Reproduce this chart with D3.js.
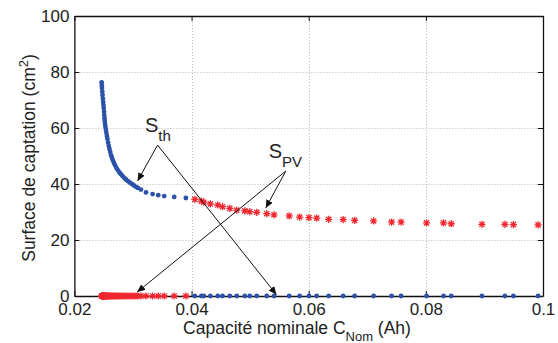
<!DOCTYPE html>
<html><head><meta charset="utf-8">
<script src="https://cdn.jsdelivr.net/npm/d3@7"></script>
<style>
body{margin:0;background:#fff}
text{font-family:Arial,"Liberation Sans",Helvetica,sans-serif;fill:#222}
</style></head>
<body><svg id="c" width="558" height="343"></svg>
<script>
// ---- data ----
const capacity = [
0.02465,0.02468,0.02471,0.02476,0.02480,0.02486,0.02491,0.02496,0.02501,0.02506,
0.02510,0.02514,0.02518,0.02524,0.02530,0.02538,0.02547,0.02555,0.02564,0.02575,
0.02587,0.02599,0.02612,0.02626,0.02641,0.02658,0.02675,0.02696,0.02718,0.02743,
0.02769,0.02794,0.02820,0.02850,0.02880,0.02914,0.02948,0.02982,0.03016,0.03050,
0.03084,0.03136,0.03222,0.03335,0.03431,0.03533,0.03704,0.03903,
0.04056,0.04167,0.04210,0.04321,0.04448,0.04529,0.04653,0.04772,0.04909,0.04994,
0.05113,0.05284,0.05408,0.05667,0.05846,0.06005,0.06136,0.06341,0.06588,0.06784,
0.07108,0.07415,0.07577,0.08012,0.08302,0.08433,0.08958,0.09350,0.09495,0.09916];
const surfaceTh = [
76.3,75.3,74.3,73.0,71.8,70.5,69.3,68.2,67.1,65.8,
64.6,63.5,62.5,61.4,60.4,59.3,58.2,57.1,56.1,54.8,
53.6,52.5,51.4,50.3,49.3,48.4,47.5,46.6,45.7,44.9,
44.1,43.5,42.9,42.2,41.6,41.0,40.5,40.0,39.5,39.0,
38.6,38.0,37.0,36.4,36.0,35.7,35.4,35.0,
0,0,0,0,0,0,0,0,0,0,
0,0,0,0,0,0,0,0,0,0,
0,0,0,0,0,0,0,0,0,0];
const surfacePV = [
0,0,0,0,0,0,0,0,0,0,
0,0,0,0,0,0,0,0,0,0,
0,0,0,0,0,0,0,0,0,0,
0,0,0,0,0,0,0,0,0,0,
0,0,0,0,0,0,0,0,
34.5,33.9,33.5,32.9,32.5,31.9,31.3,30.7,30.4,30.1,
29.9,29.4,29.0,28.6,28.2,28.0,27.8,27.4,27.3,27.0,
26.8,26.4,26.4,26.1,26.1,25.8,25.6,25.6,25.5,25.4];
const xTicks = [0.02,0.04,0.06,0.08,0.1];
const xTickLabels = ["0.02","0.04","0.06","0.08","0.1"];
const yTicks = [0,20,40,60,80,100];

// annotations in data units
const annTh = {label:[0.03221,58.4], apex:[0.03420,53.9], tips:[[0.03079,41.1],[0.05449,0.5]]};
const annPV = {label:[0.05335,49.2], apex:[0.05608,44.6], tips:[[0.05267,31.4],[0.03072,1.4]]};

// ---- chart ----
const svg = d3.select("#c");
const L=74.4, R=543, T=16, B=296;
const x = d3.scaleLinear().domain([0.02,0.1]).range([L,R]);
const y = d3.scaleLinear().domain([0,100]).range([B,T]);

// grid
const grid = svg.append("g").attr("stroke","#b8b8b8").attr("stroke-width",1).attr("stroke-dasharray","1,2");
xTicks.slice(1,-1).forEach(t=>grid.append("line").attr("x1",Math.round(x(t))+0.5).attr("x2",Math.round(x(t))+0.5).attr("y1",T).attr("y2",B));
yTicks.slice(1,-1).forEach(t=>grid.append("line").attr("y1",Math.round(y(t))+0.5).attr("y2",Math.round(y(t))+0.5).attr("x1",L).attr("x2",R));

// axes
const fs = "17px";
const gx = svg.append("g").attr("transform",`translate(0,${B})`)
  .call(d3.axisBottom(x).tickValues(xTicks).tickFormat((d,i)=>xTickLabels[i]).tickSize(-5).tickSizeOuter(0).tickPadding(7));
const gy = svg.append("g").attr("transform",`translate(${L},0)`)
  .call(d3.axisLeft(y).tickValues(yTicks).tickSize(-5).tickSizeOuter(0).tickPadding(5));
const gt = svg.append("g").attr("transform",`translate(0,${T})`)
  .call(d3.axisTop(x).tickValues(xTicks).tickFormat("").tickSize(-5).tickSizeOuter(0));
const gr = svg.append("g").attr("transform",`translate(${R},0)`)
  .call(d3.axisRight(y).tickValues(yTicks).tickFormat("").tickSize(-5).tickSizeOuter(0));
[gx,gy,gt,gr].forEach(g=>{
  g.selectAll("path.domain").attr("stroke","#111").attr("stroke-width",1.3);
  g.selectAll(".tick line").attr("stroke","#111");
  g.selectAll("text").style("font-size",fs).attr("fill","#222");
});

// series: blue dots (S_th)
const pts = capacity.map((c,i)=>({c, th:surfaceTh[i], pv:surfacePV[i]}));
svg.append("g").selectAll("circle").data(pts).join("circle")
  .attr("cx",d=>x(d.c)).attr("cy",d=>y(d.th)).attr("r",2.4).attr("fill","#2b52a8");

// red stars (S_PV)
const r=3.6, r2=r*0.72;
const star = `M${-r},0L${r},0M0,${-r}L0,${r}M${-r2},${-r2}L${r2},${r2}M${-r2},${r2}L${r2},${-r2}`;
svg.append("g").selectAll("path").data(pts).join("path")
  .attr("transform",d=>`translate(${x(d.c)},${y(d.pv)})`)
  .attr("d",star).attr("stroke","#f02830").attr("stroke-width",1.3).attr("fill","none");

// annotations
const defs = svg.append("defs");
defs.append("marker").attr("id","ah").attr("viewBox","0 0 10 10").attr("refX",10).attr("refY",5)
  .attr("markerWidth",8).attr("markerHeight",8).attr("markerUnits","userSpaceOnUse").attr("orient","auto")
  .append("path").attr("d","M0,0.5L10,5L0,9.5z").attr("fill","#111");
function annot(a, main, sub){
  const ax=x(a.apex[0]), ay=y(a.apex[1]);
  a.tips.forEach(t=>{
    svg.append("line").attr("x1",ax).attr("y1",ay).attr("x2",x(t[0])).attr("y2",y(t[1]))
      .attr("stroke","#111").attr("stroke-width",1).attr("marker-end","url(#ah)");
  });
  const tx = svg.append("text").attr("x",x(a.label[0])-1).attr("y",y(a.label[1])).style("font-size","20px");
  tx.append("tspan").text(main);
  tx.append("tspan").attr("dy",9).style("font-size","15px").text(sub);
}
annot(annTh,"S","th");
annot(annPV,"S","PV");

// axis labels
const xl = svg.append("text").attr("x",297).attr("y",334).attr("text-anchor","middle").style("font-size","17.5px");
xl.append("tspan").text("Capacité nominale C");
xl.append("tspan").attr("dy",7).style("font-size","13px").text("Nom");
xl.append("tspan").attr("dy",-7).text(" (Ah)");

const yl = svg.append("text").attr("transform","translate(35,158) rotate(-90)").attr("text-anchor","middle").style("font-size","17.5px");
yl.append("tspan").text("Surface de captation (cm");
yl.append("tspan").attr("dy",-7).style("font-size","13px").text("2");
yl.append("tspan").attr("dy",7).text(")");
</script></body></html>
